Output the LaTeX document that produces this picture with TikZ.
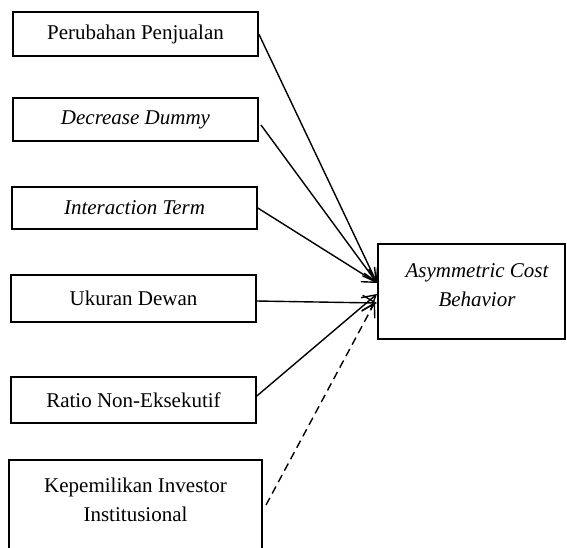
\documentclass[tikz,border=0pt]{standalone}
\usepackage{fontspec}
\setmainfont{Liberation Serif}
\usetikzlibrary{arrows.meta}
\begin{document}
\begin{tikzpicture}[x=1pt,y=-1pt,
  box/.style={draw, line width=1.6pt, inner sep=0pt, minimum width=245pt, align=center,
    font=\fontsize{21}{28}\selectfont},
  lbl/.style={inner sep=0pt, align=center, font=\fontsize{21}{29}\selectfont},
  conn/.style={line width=1.4pt, -{Straight Barb[length=13pt,width=15pt,line width=1.4pt]}}
  ]
\useasboundingbox (0,0) rectangle (567,547);
\begin{scope}
\clip (0,0) rectangle (567,547);
\node[box, minimum height=44pt] (b1) at (135.5,34) {Perubahan Penjualan};
\node[box, minimum height=43pt] (b2) at (135.5,119.5) {\itshape Decrease Dummy};
\node[box, minimum height=42pt] (b3) at (134.5,208) {\itshape Interaction Term};
\node[box, minimum height=47pt] (b4) at (133.5,298.5) {Ukuran Dewan};
\node[box, minimum height=46pt] (b5) at (133.5,400) {Ratio Non-Eksekutif};
\node[box, minimum width=253pt, minimum height=120pt] (b6) at (135.5,520) {};
\node[lbl] (t6) at (135.5,500) {Kepemilikan Investor\\Institusional};
\node[draw, line width=1.6pt, minimum width=187pt, minimum height=95pt, inner sep=0pt] (y) at (471.5,291.5) {};
\node[lbl] (ty) at (477,285) {\itshape Asymmetric Cost\\\itshape Behavior};
\end{scope}
\coordinate (e1) at (377,283);
\coordinate (e4) at (377,303);
\coordinate (e5) at (377,294);
\coordinate (e6) at (375,302);
\coordinate (s2) at (261,125);
\coordinate (s6) at (266,505);
\draw[conn] (b1.east) -- (e1);
\draw[conn] (s2) -- (e1);
\draw[conn] (b3.east) -- (e1);
\draw[conn] ([yshift=-2.5pt]b4.east) -- (e4);
\draw[conn] ([yshift=4pt]b5.east) -- (e5);
\draw[conn, dashed, dash pattern=on 8pt off 5pt] (s6) -- (e6);
\end{tikzpicture}
\end{document}
